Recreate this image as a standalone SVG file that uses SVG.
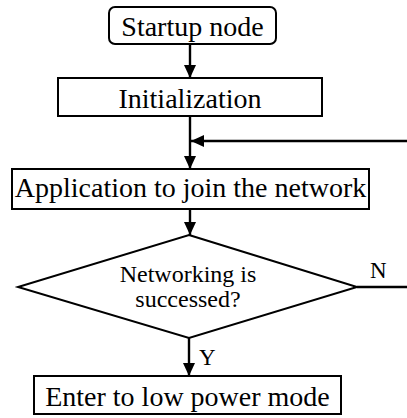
<svg xmlns="http://www.w3.org/2000/svg" width="407" height="418" viewBox="0 0 407 418">
<style>
.box{fill:#fff;stroke:#000;stroke-width:2}
.t{font-family:"Liberation Serif","Times New Roman",serif;font-size:28px;fill:#000;text-anchor:middle}
.s{font-size:24px}
.l{font-family:"Liberation Serif","Times New Roman",serif;font-size:23px;fill:#000}
.c{fill:none;stroke:#000;stroke-width:2.4}
</style>
<defs>
<marker id="ah" markerUnits="userSpaceOnUse" markerWidth="14" markerHeight="14" viewBox="0 0 14 14" refX="13" refY="7" orient="auto">
<path d="M0,1 L13,7 L0,13 Z" fill="#000"/>
</marker>
</defs>
<rect width="407" height="418" fill="#fff"/>
<g id="connectors">
<line class="c" x1="190" y1="44" x2="190" y2="78" marker-end="url(#ah)"/>
<line class="c" x1="190" y1="116" x2="190" y2="169" marker-end="url(#ah)"/>
<line class="c" x1="407" y1="141" x2="191" y2="141" marker-end="url(#ah)"/>
<line class="c" x1="190" y1="209" x2="190" y2="235" marker-end="url(#ah)"/>
<line class="c" x1="357" y1="287" x2="407" y2="287"/>
<line class="c" x1="189" y1="338" x2="189" y2="376" marker-end="url(#ah)"/>
<text class="l" x="370" y="278">N</text>
<text class="l" x="199" y="365">Y</text>
</g>
<g id="start">
<rect class="box" x="109" y="7" width="167" height="37" rx="6"/>
<text class="t" x="192.5" y="36">Startup node</text>
</g>
<g id="init">
<rect class="box" x="58" y="78" width="264" height="38"/>
<text class="t" x="190" y="108">Initialization</text>
</g>
<g id="join">
<rect class="box" x="12" y="169" width="357" height="40"/>
<text class="t" x="190.5" y="197">Application to join the network</text>
</g>
<g id="decision">
<polygon class="box" points="189,235 357,287 189,338 18,287"/>
<text class="t s" x="188" y="282">Networking is</text>
<text class="t s" x="188" y="307">successed?</text>
</g>
<g id="lowpower">
<rect class="box" x="34" y="376" width="307" height="38"/>
<text class="t" x="187.5" y="406">Enter to low power mode</text>
</g>
</svg>
